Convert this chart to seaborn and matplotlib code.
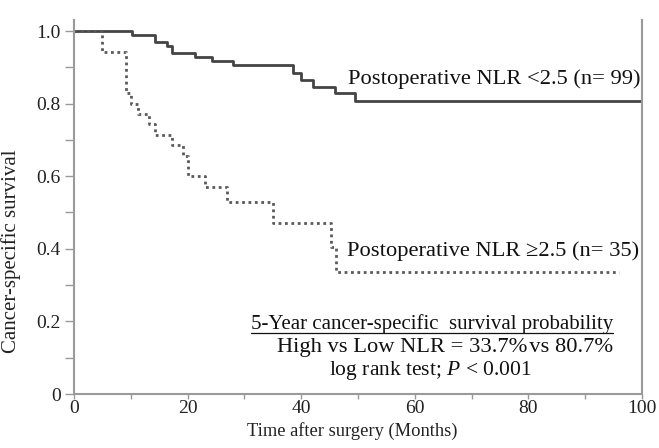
import matplotlib
matplotlib.use("Agg")
import matplotlib.pyplot as plt
import seaborn as sns
import pandas as pd
from matplotlib.ticker import MultipleLocator, FixedLocator

# ---- data ----
low_time = [0, 10.2, 14.3, 16.4, 17.3, 21.3, 24.3, 28.0, 38.5, 40.0, 42.0, 46.0, 49.5, 100]
low_surv = [1.0, 0.990, 0.970, 0.960, 0.939, 0.929, 0.918, 0.907, 0.884, 0.865, 0.846, 0.830, 0.807, 0.807]

high_time = [0, 5.0, 9.2, 10.0, 11.3, 13.2, 14.3, 17.2, 19.2, 20.0, 23.0, 27.0, 35.0, 45.2, 46.1, 96]
high_surv = [1.0, 0.943, 0.829, 0.800, 0.771, 0.743, 0.714, 0.686, 0.657, 0.600, 0.571, 0.529, 0.471, 0.404, 0.337, 0.337]

xticks = [0, 20, 40, 60, 80, 100]
yticks = [0, 0.2, 0.4, 0.6, 0.8, 1.0]
ytick_labels = ["0", "0.2", "0.4", "0.6", "0.8", "1.0"]

label_low = "Postoperative NLR <2.5 (n= 99)"
label_high = "Postoperative NLR \u22652.5 (n= 35)"
summary_title = "5-Year cancer-specific  survival probability"
summary_line2 = "High vs Low NLR = 33.7%\u200avs 80.7%"
summary_line3 = "log rank test; $P$ < 0.001"

sns.set_style("white")
plt.rcParams['font.family'] = ['Liberation Serif', 'DejaVu Serif']
plt.rcParams['mathtext.fontset'] = 'custom'
plt.rcParams['mathtext.rm'] = 'Liberation Serif'
plt.rcParams['mathtext.it'] = 'Liberation Serif:italic'

df_low = pd.DataFrame({"time": low_time, "surv": low_surv})
df_high = pd.DataFrame({"time": high_time, "surv": high_surv})

fig = plt.figure(figsize=(6.59, 4.48), dpi=100)
ax = fig.add_axes([74/659, (448-394)/448, (642-74)/659, (394-20)/448])

sns.lineplot(data=df_low, x="time", y="surv", drawstyle="steps-post", estimator=None,
             color="#444444", lw=2.0, ax=ax)
sns.lineplot(data=df_high, x="time", y="surv", drawstyle="steps-post", estimator=None,
             color="#5a5a5a", lw=2.0, linestyle=(0, (1, 1.3)), ax=ax)

ax.set_xlim(0, 100)
ax.set_ylim(0, (394-20)/363)
ax.xaxis.set_major_locator(FixedLocator(xticks))
ax.xaxis.set_minor_locator(MultipleLocator(10))
ax.yaxis.set_major_locator(FixedLocator(yticks))
ax.set_yticklabels(ytick_labels)
ax.yaxis.set_minor_locator(FixedLocator([0.1, 0.3, 0.5, 0.7, 0.9]))
ax.tick_params(axis='both', which='both', direction='out', color='#999999',
               labelsize=14, labelcolor='#222222', width=1)
ax.tick_params(axis='y', which='both', length=6.5, pad=3, left=True)
ax.tick_params(axis='x', which='both', length=3.5, pad=0.5, bottom=True)

for side in ['left', 'bottom', 'right']:
    ax.spines[side].set_color('#9a9a9a')
    ax.spines[side].set_linewidth(1.5)
ax.spines['top'].set_visible(False)

ax.set_xlabel("Time after surgery (Months)", fontsize=13.3, color='#222222', labelpad=1)
ax.set_ylabel("Cancer-specific survival", fontsize=15, color='#222222')
ax.yaxis.set_label_coords(-0.093, 0.382)
ax.xaxis.set_label_coords(0.490, -0.075)

ax.text(48.2, 0.868, label_low, fontsize=16.2, va='center', ha='left', color='#111111')
ax.text(48.0, 0.394, label_high, fontsize=16.2, va='center', ha='left', color='#111111')

t1 = ax.text(63.0, 0.193, summary_title, fontsize=15, va='center', ha='center', color='#111111')
ax.text(65.3, 0.129, summary_line2, fontsize=16.2, va='center', ha='center', color='#111111')
ax.text(62.7, 0.066, summary_line3, fontsize=15.5, va='center', ha='center', color='#111111')

# underline for title
fig.canvas.draw()
bb = t1.get_window_extent(renderer=fig.canvas.get_renderer())
inv = ax.transData.inverted()
(x0, y0) = inv.transform((bb.x0, bb.y0 + 1))
(x1, _) = inv.transform((bb.x1, bb.y0 + 1))
ax.plot([x0, x1], [y0, y0], color='#111111', lw=0.9)

fig.savefig("out.png", dpi=100)
